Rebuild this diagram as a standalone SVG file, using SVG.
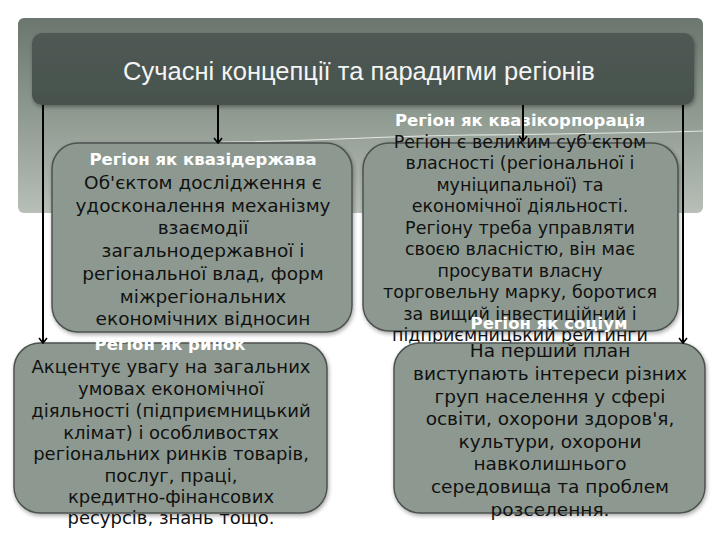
<svg xmlns="http://www.w3.org/2000/svg" width="720" height="540" viewBox="0 0 720 540">
<defs>
<linearGradient id="panelGrad" x1="0" y1="0" x2="0" y2="1">
<stop offset="0" stop-color="#6b776e"/>
<stop offset="0.5" stop-color="#8f9a91"/>
<stop offset="1" stop-color="#b7bfb7"/>
</linearGradient>
<linearGradient id="titleGrad" x1="0" y1="0" x2="0" y2="1">
<stop offset="0" stop-color="#4f5a55"/>
<stop offset="1" stop-color="#48524d"/>
</linearGradient>
<filter id="shadow" x="-5%" y="-10%" width="110%" height="130%">
<feGaussianBlur in="SourceAlpha" stdDeviation="2"/>
<feOffset dx="1" dy="2" result="b"/>
<feComponentTransfer><feFuncA type="linear" slope="0.35"/></feComponentTransfer>
<feMerge><feMergeNode/><feMergeNode in="SourceGraphic"/></feMerge>
</filter>
<marker id="arr" viewBox="0 0 10 10" refX="9" refY="5" markerWidth="10" markerHeight="10" markerUnits="userSpaceOnUse" orient="auto">
<path d="M4,1 L9,5 L4,9" fill="none" stroke="#000" stroke-width="1.6"/>
</marker>
</defs>
<style>
.box{fill:#8d9990;stroke:#4d524f;stroke-width:1.5}
.ttl{font-family:"DejaVu Sans",sans-serif;font-weight:bold;fill:#ffffff;text-anchor:middle;font-size:16.5px}
.body{font-family:"DejaVu Sans",sans-serif;fill:#111;text-anchor:middle}
.conn{stroke:#000;stroke-width:2;fill:none}
</style>
<rect x="0" y="0" width="720" height="540" fill="#ffffff"/>
<rect x="18" y="18" width="685" height="195" rx="6" fill="url(#panelGrad)"/>
<path d="M222,142 C330,141 380,136 470,135 C560,134 640,133 703,131" fill="none" stroke="#eef2ee" stroke-width="1.2" opacity="0.85"/>
<g id="title">
<rect x="32" y="33" width="662" height="72" rx="10" fill="url(#titleGrad)" filter="url(#shadow)"/>
<text x="359" y="80" font-family="Liberation Sans, Arial, sans-serif" font-size="25.5" fill="#f4f4f4" text-anchor="middle">Сучасні концепції та парадигми регіонів</text>
</g>
<g id="node-kvazidержава">
<rect class="box" x="52" y="143" width="300" height="189" rx="26" filter="url(#shadow)"/>
<text class="ttl" x="203" y="165">Регіон як квазідержава</text>
<text class="body" font-size="18.5" x="203"><tspan x="203" y="189">Об'єктом дослідження є</tspan><tspan x="203" y="211.7">удосконалення механізму</tspan><tspan x="203" y="234.4">взаємодії</tspan><tspan x="203" y="257.1">загальнодержавної і</tspan><tspan x="203" y="279.8">регіональної влад, форм</tspan><tspan x="203" y="302.5">міжрегіональних</tspan><tspan x="203" y="325.2">економічних відносин</tspan></text>
</g>
<g id="node-kvazikorp">
<rect class="box" x="363" y="143" width="315" height="188" rx="26" filter="url(#shadow)"/>
<text class="ttl" x="520" y="126">Регіон як квазікорпорація</text>
<text class="body" font-size="17.5"><tspan x="520" y="148">Регіон є великим суб'єктом</tspan><tspan x="520" y="169.4">власності (регіональної і</tspan><tspan x="520" y="190.9">муніципальної) та</tspan><tspan x="520" y="212.3">економічної діяльності.</tspan><tspan x="520" y="233.8">Регіону треба управляти</tspan><tspan x="520" y="255.2">своєю власністю, він має</tspan><tspan x="520" y="276.7">просувати власну</tspan><tspan x="520" y="298.1">торговельну марку, боротися</tspan><tspan x="520" y="319.6">за вищий інвестиційний і</tspan><tspan x="520" y="341">підприємницький рейтинги</tspan></text>
</g>
<g id="node-rynok">
<rect class="box" x="14" y="343" width="313" height="170" rx="26" filter="url(#shadow)"/>
<text class="ttl" x="170" y="350">Регіон як ринок</text>
<text class="body" font-size="18"><tspan x="171" y="373">Акцентує увагу на загальних</tspan><tspan x="171" y="395">умовах економічної</tspan><tspan x="171" y="417">діяльності (підприємницький</tspan><tspan x="171" y="438.5">клімат) і особливостях</tspan><tspan x="171" y="460">регіональних ринків товарів,</tspan><tspan x="171" y="481.5">послуг, праці,</tspan><tspan x="171" y="503">кредитно-фінансових</tspan><tspan x="171" y="524">ресурсів, знань тощо.</tspan></text>
</g>
<g id="node-sotsium">
<rect class="box" x="394" y="343" width="311" height="170" rx="26" filter="url(#shadow)"/>
<text class="ttl" x="549" y="329">Регіон як соціум</text>
<text class="body" font-size="18.5"><tspan x="550" y="357">На перший план</tspan><tspan x="550" y="380">виступають інтереси різних</tspan><tspan x="550" y="402.6">груп населення у сфері</tspan><tspan x="550" y="425.2">освіти, охорони здоров'я,</tspan><tspan x="550" y="447.8">культури, охорони</tspan><tspan x="550" y="470.4">навколишнього</tspan><tspan x="550" y="493">середовища та проблем</tspan><tspan x="550" y="515.6">розселення.</tspan></text>
</g>
<g id="connectors">
<line class="conn" x1="43" y1="105" x2="43" y2="343" marker-end="url(#arr)"/>
<line class="conn" x1="218" y1="105" x2="218" y2="143" marker-end="url(#arr)"/>
<line class="conn" x1="523" y1="105" x2="523" y2="141" marker-end="url(#arr)"/>
<line class="conn" x1="683" y1="105" x2="683" y2="343" marker-end="url(#arr)"/>
</g>
</svg>
